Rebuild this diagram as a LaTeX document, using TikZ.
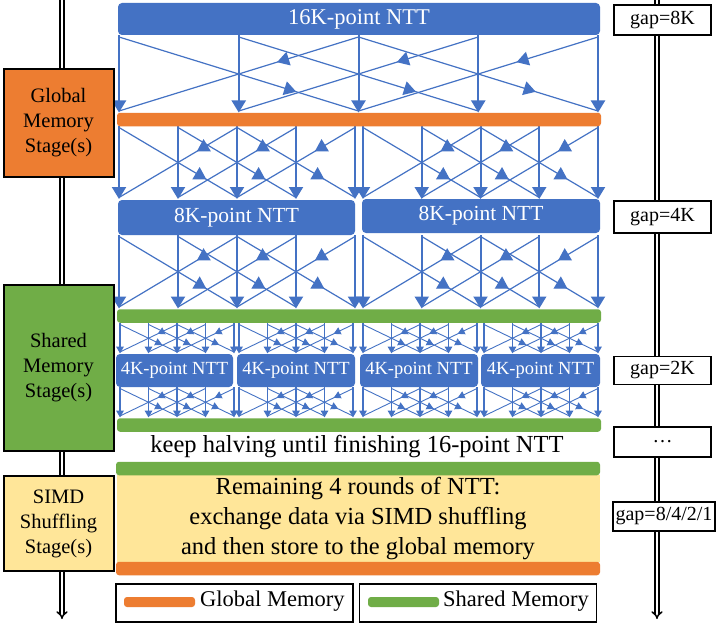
\documentclass[tikz,border=0pt]{standalone}
\usepackage{fontspec}
\setmainfont{Liberation Serif}
\usetikzlibrary{arrows.meta, decorations.markings}

% one butterfly group of five columns:
% #1 first column, #2 column step, #3 top, #4 bottom, #5 tip, #6 vertical width, #7 cross width
\newcommand{\bfly}[7]{%
  \foreach \k in {0,...,4}
    \draw[vert line=#6, -{#5}] ({#1+\k*#2},{#3}) -- ({#1+\k*#2},{#4});
  \foreach \k in {0,1,2} {
    \draw[cross line={0.74}{#5}{#7}] ({#1+\k*#2},{#3+1.5}) -- ({#1+(\k+2)*#2},{#4-1.5});
    \draw[cross line={0.34}{#5}{#7}] ({#1+(\k+2)*#2},{#3+1.5}) -- ({#1+\k*#2},{#4-1.5});
  }%
}

\begin{document}
\begin{tikzpicture}[x=1pt, y=-1pt]

\definecolor{nttblue}{RGB}{68, 114, 196}
\definecolor{gmorange}{RGB}{237, 125, 49}
\definecolor{smgreen}{RGB}{112, 173, 71}
\definecolor{simdyellow}{RGB}{255, 230, 153}

% Fill background
\useasboundingbox (0,0) rectangle (718,626);
\fill[white] (0,0) rectangle (718,626);

\tikzset{
    big tip/.tip={Triangle[width=14pt, length=12pt]},
    small tip/.tip={Triangle[width=7.5pt, length=7pt]},
    vert line/.style={
        draw=nttblue, line width=#1
    },
    cross line/.style n args={3}{
        draw=nttblue, line width=#3,
        postaction={decorate},
        decoration={markings, mark=at position #1 with {\arrow{#2}}}
    },
    ntt block/.style={
        fill=nttblue, rounded corners=4pt,
        inner sep=0pt, text=white
    },
    bar/.style={
        fill=#1, rounded corners=3pt,
        inner sep=0pt, minimum height=13.5pt
    },
    stage block/.style={
        draw=black, line width=2pt, fill=#1,
        inner sep=0pt, minimum width=110pt,
        align=center, font=\fontsize{20.5}{25}\selectfont
    },
    gap block/.style={
        draw=black, line width=1.8pt, fill=white,
        inner sep=0pt, minimum width=97pt,
        font=\fontsize{20}{24}\selectfont
    },
    legend block/.style={
        draw=black, line width=1.8pt,
        minimum width=237pt, minimum height=38pt
    },
    time axis/.style={
        draw=black, double=white, line width=1.5pt,
        double distance=2.2pt, -{Implies}
    }
}

% Time axes on both sides
\coordinate (ltop) at (62,0);
\coordinate (lbot) at (62,619);
\coordinate (rtop) at (657,0);
\coordinate (rbot) at (657,619);
\draw[time axis] (ltop) -- (lbot);
\draw[time axis] (rtop) -- (rbot);

% Butterflies, gap 8K
\bfly{119}{119.75}{35.5}{112.5}{big tip}{2pt}{1.2pt}

% Butterflies, gap 4K (before and after the 8K-point NTTs)
\bfly{119}{59}{126}{199}{big tip}{2pt}{1.2pt}
\bfly{363}{58.75}{126}{199}{big tip}{2pt}{1.2pt}
\bfly{119}{59}{235}{308.5}{big tip}{2pt}{1.2pt}
\bfly{363}{58.75}{235}{308.5}{big tip}{2pt}{1.2pt}

% Butterflies, gap 2K (before and after the 4K-point NTTs)
\foreach \g in {120,239,363,484} {
    \bfly{\g}{28.5}{323}{353.5}{small tip}{1.5pt}{0.9pt}
    \bfly{\g}{28.5}{387}{417.5}{small tip}{1.5pt}{0.9pt}
}

% NTT blocks
\node[ntt block, minimum width=482pt, minimum height=32pt, font=\fontsize{22.5}{27}\selectfont] (ntt16k) at (359,19) {16K-point NTT};
\node[ntt block, minimum width=237pt, minimum height=35pt, font=\fontsize{21.5}{26}\selectfont] (ntt8ka) at (236.5,217.5) {8K-point NTT};
\node[ntt block, minimum width=238pt, minimum height=34pt, font=\fontsize{21.5}{26}\selectfont] (ntt8kb) at (481,216) {8K-point NTT};
\node[ntt block, minimum width=117pt, minimum height=33pt, font=\fontsize{18.5}{22}\selectfont] (ntt4ka) at (174.5,370.5) {4K-point NTT};
\node[ntt block, minimum width=118pt, minimum height=33pt, font=\fontsize{18.5}{22}\selectfont] (ntt4kb) at (296,370.5) {4K-point NTT};
\node[ntt block, minimum width=118pt, minimum height=33pt, font=\fontsize{18.5}{22}\selectfont] (ntt4kc) at (419,370.5) {4K-point NTT};
\node[ntt block, minimum width=119pt, minimum height=33pt, font=\fontsize{18.5}{22}\selectfont] (ntt4kd) at (540.5,370.5) {4K-point NTT};

% Memory bars
\node[bar=gmorange, minimum width=484pt] (gm1) at (359,119.5) {};
\node[bar=smgreen, minimum width=484pt] (sm1) at (359,316) {};
\node[bar=smgreen, minimum width=484pt] (sm2) at (359,425) {};

\node[font=\fontsize{24.5}{30}\selectfont] (halving) at (357,447) {keep halving until finishing 16-point NTT};

% SIMD shuffling rounds
\node[fill=simdyellow, minimum width=483pt, minimum height=87pt, inner sep=0pt, align=center, font=\fontsize{24.5}{30}\selectfont] (simd) at (358,518.5) {Remaining 4 rounds of NTT:\\exchange data via SIMD shuffling\\and then store to the global memory};
\node[bar=smgreen, minimum width=484pt] (sm3) at (358,468.5) {};
\node[bar=gmorange, minimum width=484pt] (gm2) at (358,568.5) {};

% Stages on the left
\node[stage block=gmorange, minimum height=108pt] (gstage) at (58.5,123) {Global\\Memory\\Stage(s)};
\node[stage block=smgreen, minimum height=166pt] (sstage) at (58.5,368) {Shared\\Memory\\Stage(s)};
\node[stage block=simdyellow, minimum height=95pt] (simdstage) at (58.5,523.5) {SIMD\\Shuffling\\Stage(s)};

% Gaps on the right
\node[gap block, minimum height=30pt] (gap8k) at (662.5,20) {gap=8K};
\node[gap block, minimum height=32pt] (gap4k) at (662.5,217) {gap=4K};
\node[gap block, minimum height=28pt] (gap2k) at (662.5,370.5) {gap=2K};
\node[gap block, minimum height=30pt] (gapdots) at (662.5,442) {\ldots};
\node[gap block, minimum width=102pt, minimum height=29pt] (gapsimd) at (664,516.5) {gap=8/4/2/1};

% Legend
\node[legend block] (leggm) at (234.5,603) {};
\node[legend block] (legsm) at (478,603) {};
\node[bar=gmorange, minimum width=71pt, minimum height=10pt] (swgm) at (159.5,602) {};
\node[anchor=west, inner sep=0pt, font=\fontsize{22.5}{27}\selectfont] (txtgm) at (200,601) {Global Memory};
\node[bar=smgreen, minimum width=71pt, minimum height=10pt] (swsm) at (403.5,602) {};
\node[anchor=west, inner sep=0pt, font=\fontsize{22.5}{27}\selectfont] (txtsm) at (443,601) {Shared Memory};

\end{tikzpicture}
\end{document}
